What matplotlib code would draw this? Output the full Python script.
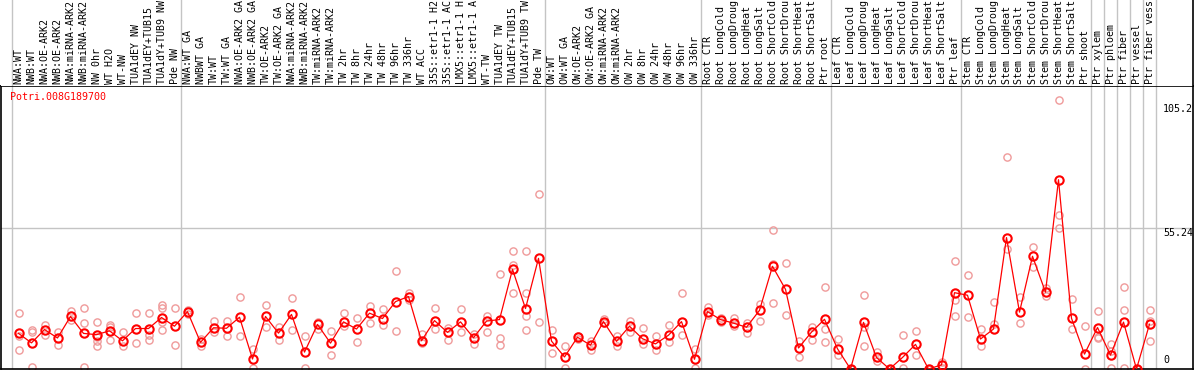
import matplotlib
matplotlib.use("Agg")
import matplotlib.pyplot as plt
import matplotlib.transforms as mtransforms

# ---------------- data ----------------
gene = "Potri.008G189700"

samples = [
    "NWA:WT", "NWB:WT", "NWA:OE-ARK2", "NWB:OE-ARK2", "NWA:miRNA-ARK2", "NWB:miRNA-ARK2",
    "NW 0hr", "WT H2O", "WT-NW", "TUA1dEY NW", "TUA1dEY+TUB15", "TUA1dY+TUB9 NW", "Pde NW",
    "NWA:WT GA", "NWBWT GA", "TW:WT", "TW:WT GA", "NWA:OE-ARK2 GA", "NWB:OE-ARK2 GA",
    "TW:OE-ARK2", "TW:OE-ARK2 GA", "NWA:miRNA-ARK2", "NWB:miRNA-ARK2", "TW:miRNA-ARK2",
    "TW:miRNA-ARK2", "TW 2hr", "TW 8hr", "TW 24hr", "TW 48hr", "TW 96hr", "TW 336hr",
    "WT ACC", "35S::etr1-1 H2", "35S::etr1-1 AC", "LMX5::etr1-1 H", "LMX5::etr1-1 A",
    "WT-TW", "TUA1dEY TW", "TUA1dEY+TUB15", "TUA1dY+TUB9 TW", "Pde TW",
    "OW:WT", "OW:WT GA", "OW:OE-ARK2", "OW:OE-ARK2 GA", "OW:miRNA-ARK2", "OW:miRNA-ARK2",
    "OW 2hr", "OW 8hr", "OW 24hr", "OW 48hr", "OW 96hr", "OW 336hr",
    "Root CTR", "Root LongCold", "Root LongDroug", "Root LongHeat", "Root LongSalt",
    "Root ShortCold", "Root ShortDrou", "Root ShortHeat", "Root ShortSalt", "Ptr root",
    "Leaf CTR", "Leaf LongCold", "Leaf LongDroug", "Leaf LongHeat", "Leaf LongSalt",
    "Leaf ShortCold", "Leaf ShortDrou", "Leaf ShortHeat", "Leaf ShortSalt", "Ptr leaf",
    "Stem CTR", "Stem LongCold", "Stem LongDroug", "Stem LongHeat", "Stem LongSalt",
    "Stem ShortCold", "Stem ShortDrou", "Stem ShortHeat", "Stem ShortSalt", "Ptr shoot",
    "Ptr xylem", "Ptr phloem", "Ptr fiber", "Ptr vessel", "Ptr fiber vess",
]

# number of samples in each group (separated by vertical lines)
group_sizes = [13, 28, 12, 10, 10, 10, 1, 1, 1, 1, 1]

means = [
    13.9, 10.2, 15.4, 12.1, 20.5, 13.9, 13.4, 14.9, 11.0, 15.8, 15.8, 20.1, 16.7,
    22.4, 10.4, 16.1, 15.9, 20.2, 3.9, 20.5, 14.0, 21.3, 6.6, 17.4, 10.1, 18.4, 15.6,
    21.8, 19.7, 26.3, 28.3, 11.0, 18.9, 14.3, 18.4, 12.2, 18.7, 19.3, 38.9, 23.6, 43.2,
    10.9, 4.7, 12.4, 9.3, 18.5, 10.8, 16.7, 11.8, 9.8, 13.2, 18.5, 3.8,
    22.4, 19.3, 17.9, 16.3, 22.9, 40.1, 31.1, 8.2, 14.4, 19.4,
    7.9, 0.0, 18.2, 4.5, 0.0, 4.5, 9.6, 0.0, 1.6, 29.8,
    28.8, 11.7, 15.6, 51.3, 22.2, 44.0, 30.0, 73.9, 19.8, 5.8,
    16.2, 5.4, 18.3, 0.0, 17.5,
]

replicates = [
    [21.7, 13.0, 7.4], [15.2, 14.3, 0.6], [17.0, 13.4], [14.4, 9.5], [22.6, 19.1],
    [24.0, 17.8, 0.6], [18.5, 12.6, 10.8, 8.8], [17.2, 16.5, 11.4], [14.3, 9.1],
    [21.7, 10.0], [22.0, 13.4, 11.5], [25.0, 24.0, 18.3, 15.2], [24.0, 9.5],
    [23.2, 21.4], [11.7, 9.1], [18.7, 14.5], [18.7, 12.7], [28.0, 12.8], [7.8, 0.3],
    [24.9, 16.3], [16.5, 11.5], [27.6, 15.2], [12.8, 0.3], [18.4, 15.8], [14.7, 5.4],
    [22.0, 16.8], [19.8, 10.6], [24.5, 17.9], [23.6, 17.1], [38.1, 14.7], [29.8, 27.0],
    [13.5, 10.0], [23.7, 15.8], [16.1, 11.5], [23.5, 14.3], [13.5, 9.6], [20.7, 14.3],
    [37.2, 12.2, 9.3], [45.9, 40.5, 29.8], [45.9, 29.8, 20.7, 15.2], [68.5, 18.2],
    [15.2, 6.2], [8.8, 0.3], [13.0, 11.9], [10.9, 7.5], [19.7, 17.9], [12.7, 9.1],
    [18.8, 14.3], [15.9, 9.8], [12.8, 7.4], [17.1, 10.6], [29.8, 13.2], [7.8, 0.3],
    [24.2, 21.0], [20.1, 18.4], [20.1, 16.6], [17.8, 13.9], [25.4, 18.9],
    [54.1, 40.8, 25.6], [41.2, 21.0], [10.8, 4.5], [16.3, 11.4], [31.9, 15.6, 10.4],
    [11.7, 5.4], [0.0, 0.0], [29.0, 16.3, 8.9], [6.7, 3.1], [0.0, 0.0], [13.2, 0.3],
    [15.0, 5.4], [0.0, 0.0], [2.8, 0.3], [42.0, 27.0, 20.6],
    [36.6, 20.2], [15.6, 9.0], [26.0, 17.5], [82.9, 47.0], [28.0, 18.0],
    [39.7, 47.5], [28.5, 31.5], [105.2, 60.3, 55.2], [27.5, 15.6], [16.7, 0.0],
    [22.7, 12.6, 12.0], [9.7, 7.1, 0.3], [32.0, 23.2, 0.3], [0.0, 0.0], [23.2, 18.8, 10.8],
]

y_max_label = "105.2"
y_mid_label = "55.24"
y_mid = 55.24
y_top = 2 * y_mid

# ---------------- figure ----------------
W, H = 1194, 370
fig = plt.figure(figsize=(W / 100, H / 100), dpi=100)
plot_top = 86
ax = fig.add_axes([1 / W, 1 / H, 1192 / W, (H - plot_top - 1) / H])
axl = fig.add_axes([1 / W, (H - plot_top) / H, 1192 / W, plot_top / H], sharex=ax)

n = len(samples)
xs = list(range(n))
# px: sample i centre at 18.5 + 13 i ; axes spans px 1..1193
x_lo = (1 - 18.5) / 13
x_hi = (1193 - 18.5) / 13
ax.set_xlim(x_lo, x_hi)
ax.set_ylim(0, y_top)

font = "DejaVu Sans Mono"
fs = 7.2
grid_c = "#c4c4c4"
rep_c = "#ef9a9a"
red = "#ff0000"

# group separators
bounds = [-0.5]
acc = 0
for g in group_sizes:
    acc += g
    bounds.append(acc - 0.5)
for b in bounds:
    ax.axvline(b, color=grid_c, lw=1.0, zorder=1)
    axl.axvline(b, color=grid_c, lw=1.0, zorder=1)

ax.axhline(y_mid, color=grid_c, lw=1.0, zorder=1)

# replicates
for i, reps in enumerate(replicates):
    ax.plot([i] * len(reps), reps, linestyle="none", marker="o", ms=5.2,
            mfc="none", mec=rep_c, mew=1.0, zorder=2)

# mean line and markers
ax.plot(xs, means, color=red, lw=0.9, zorder=3)
ax.plot(xs, means, linestyle="none", marker="o", ms=6.0, mfc="none",
        mec=red, mew=1.5, zorder=4)

for s in ax.spines.values():
    s.set_color("black")
    s.set_linewidth(1.2)
ax.tick_params(left=False, bottom=False, labelleft=False, labelbottom=False)

# gene name
ax.text(9 / 1192, 1 - (97 - plot_top) / (H - plot_top - 1), gene, transform=ax.transAxes,
        color=red, fontsize=fs, family=font, ha="left", va="center")

# right-side value labels
tx = mtransforms.blended_transform_factory(ax.transData, ax.transData)
x_lab = (1163 - 18.5) / 13
ax.annotate(y_max_label, (x_lab, float(y_max_label)), xytext=(0, -3),
            textcoords="offset points", fontsize=fs, family=font,
            ha="left", va="top")
ax.annotate(y_mid_label, (x_lab, y_mid), xytext=(0, -0.5),
            textcoords="offset points", fontsize=fs, family=font,
            ha="left", va="top")
ax.annotate("0", (x_lab, 0), xytext=(0, 3),
            textcoords="offset points", fontsize=fs, family=font,
            ha="left", va="bottom")

# sample labels
axl.set_ylim(0, 1)
for side in ["left", "top", "bottom"]:
    axl.spines[side].set_visible(False)
axl.spines["right"].set_color("black")
axl.spines["right"].set_linewidth(1.2)
axl.tick_params(left=False, bottom=False, labelleft=False, labelbottom=False)
lt = mtransforms.blended_transform_factory(axl.transData, axl.transAxes)
for i, lab in enumerate(samples):
    axl.text(i, 2.5 / plot_top, lab, transform=lt, rotation=90, ha="center",
             va="bottom", fontsize=fs, family=font, clip_on=False)

fig.savefig("out.png", dpi=100)
